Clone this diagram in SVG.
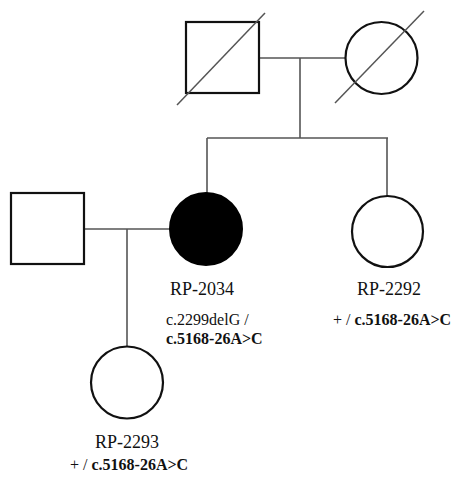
<svg xmlns="http://www.w3.org/2000/svg" width="454" height="479" viewBox="0 0 454 479">
<style>
.shape{fill:#fff;stroke:#111;stroke-width:2.2}
.aff{fill:#000;stroke:#000;stroke-width:2}
.line{fill:none;stroke:#555;stroke-width:1.6}
.slash{stroke:#555;stroke-width:1.5}
.lbl{font-family:"Liberation Serif",serif;font-size:18px;fill:#111}
.gen{font-family:"Liberation Serif",serif;font-size:16px;fill:#111}
.b{font-weight:bold}
</style>
<rect width="454" height="479" fill="#fff"/>
<g id="connectors">
<path class="line" d="M259,58 H345"/>
<path class="line" d="M300,58 V138"/>
<path class="line" d="M207,138 H388"/>
<path class="line" d="M207,138 V193"/>
<path class="line" d="M387,138 V196"/>
<path class="line" d="M84,229 H170"/>
<path class="line" d="M127,229 V347"/>
</g>
<g id="grandfather">
<rect class="shape" x="186" y="22" width="73" height="71"/>
<line class="slash" x1="177" y1="105" x2="265" y2="13"/>
</g>
<g id="grandmother">
<circle class="shape" cx="381.5" cy="58" r="36"/>
<line class="slash" x1="335" y1="103" x2="424" y2="11"/>
</g>
<g id="husband">
<rect class="shape" x="11" y="193" width="73" height="71"/>
</g>
<g id="RP-2034">
<circle class="aff" cx="206" cy="229" r="36"/>
<text class="lbl" x="202" y="295" text-anchor="middle">RP-2034</text>
<text class="gen" x="166" y="325">c.2299delG /</text>
<text class="gen b" x="166" y="344">c.5168-26A&gt;C</text>
</g>
<g id="RP-2292">
<circle class="shape" cx="387.5" cy="231.5" r="35.5"/>
<text class="lbl" x="389" y="295" text-anchor="middle">RP-2292</text>
<text class="gen" x="333" y="325">+ / <tspan class="b">c.5168-26A&gt;C</tspan></text>
</g>
<g id="RP-2293">
<circle class="shape" cx="127" cy="382.5" r="36"/>
<text class="lbl" x="127" y="448" text-anchor="middle">RP-2293</text>
<text class="gen" x="70" y="470">+ / <tspan class="b">c.5168-26A&gt;C</tspan></text>
</g>
</svg>
